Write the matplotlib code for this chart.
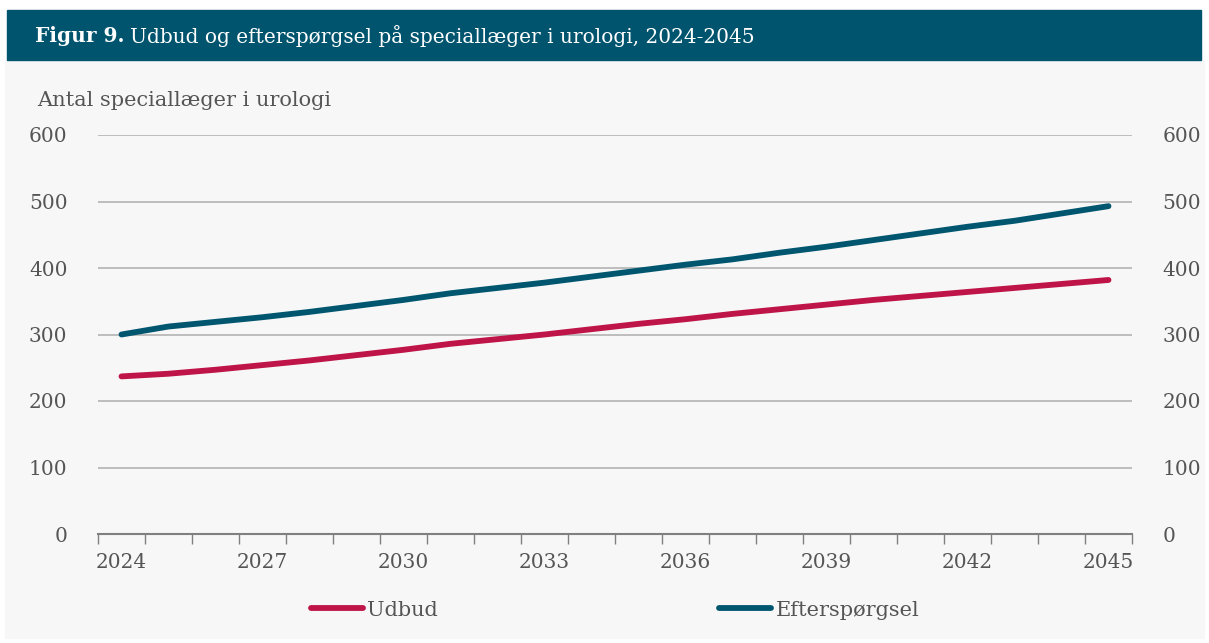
import numpy as np
import matplotlib.pyplot as plt
from matplotlib.patches import Rectangle
from matplotlib.ticker import FixedLocator, NullFormatter
from matplotlib.transforms import offset_copy

plt.rcParams['font.family'] = ['DejaVu Serif']

years = list(range(2024, 2046))
udbud = [237, 241, 247, 254, 261, 269, 277, 286, 293, 300, 308,
         316, 323, 331, 338, 345, 352, 358, 364, 370, 376, 382]
efterspoergsel = [300, 312, 319, 326, 334, 343, 352, 362, 370, 378, 387,
                  396, 405, 413, 423, 432, 442, 452, 462, 471, 482, 493]
yticks = [0, 100, 200, 300, 400, 500, 600]

red = '#be1448'
blue = '#00566f'
txt = '#555555'

fig = plt.figure(figsize=(12.09, 6.43), dpi=100)
fig.patch.set_facecolor('white')
# gray panel and title bar behind the axes
fig.patches.append(Rectangle((5/1209, 5/643), 1199/1209, 578/643,
                             transform=fig.transFigure, color='#f7f7f7', zorder=-2))
fig.patches.append(Rectangle((7/1209, 1 - 60/643), 1194/1209, 50/643,
                             transform=fig.transFigure, color='#00546e', zorder=-1))
t1 = fig.text(35/1209, 1 - 36/643, 'Figur 9.', color='white', fontsize=14.5,
              fontweight='bold', va='center', ha='left')
fig.canvas.draw()
bb = t1.get_window_extent()
fig.text(bb.x1 / 1209 + 5/1209, 1 - 36/643,
         'Udbud og efterspørgsel på speciallæger i urologi, 2024-2045',
         color='white', fontsize=14.5, va='center', ha='left')
fig.text(37/1209, 1 - 100/643, 'Antal speciallæger i urologi', color=txt,
         fontsize=15, va='center', ha='left')

ax = fig.add_axes([98/1209, 1 - 534/643, 1034/1209, 399/643])
ax.set_facecolor('#f7f7f7')
x = np.arange(len(years))
ax.plot(x, udbud, color=red, lw=4.2, solid_capstyle='round', label='Udbud')
ax.plot(x, efterspoergsel, color=blue, lw=4.2, solid_capstyle='round', label='Efterspørgsel')

ax.set_xlim(-0.5, len(years) - 0.5)
ax.set_ylim(0, 600)
ax.set_yticks(yticks)
ax.grid(axis='y', color='#b8b8b8', lw=1.3)
ax.set_axisbelow(True)
for s in ['top', 'left', 'right']:
    ax.spines[s].set_visible(False)
ax.spines['bottom'].set_color('#808080')
ax.spines['bottom'].set_linewidth(1.5)

ax.set_xticks(x[::3])
ax.set_xticklabels([str(y) for y in years[::3]])
ax.xaxis.set_minor_locator(FixedLocator(np.arange(-0.5, len(years), 1)))
ax.xaxis.set_minor_formatter(NullFormatter())
ax.tick_params(axis='x', which='major', length=0, pad=14, labelsize=14.5, labelcolor=txt)
ax.tick_params(axis='x', which='minor', length=7, width=1, color='#808080', direction='out')
ax.tick_params(axis='y', length=0, pad=22, labelsize=14.5, labelcolor=txt,
               labelleft=True, labelright=True)

ax.legend(loc='upper center', bbox_to_anchor=(0.5, -0.12), ncol=2, frameon=False,
          fontsize=15, handlelength=2.5, handletextpad=0.2, columnspacing=13.5,
          labelcolor=txt)

fig.savefig('out.png', dpi=100, facecolor=fig.get_facecolor())
